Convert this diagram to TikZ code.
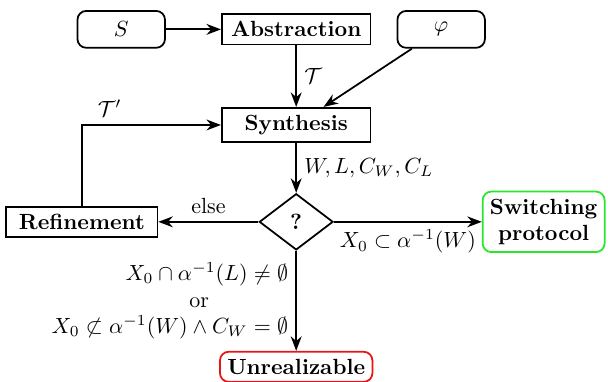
\documentclass[tikz,border=0pt]{standalone}
\usepackage{amsmath,amssymb}
\usepackage{tikz}
\usetikzlibrary{shapes.geometric, arrows.meta, positioning, calc}
\definecolor{okgreen}{RGB}{40,230,40}
\definecolor{badred}{RGB}{235,20,20}
\tikzset{
  inp/.style={rectangle, draw, thick, rounded corners=4pt,
    minimum width=14mm, minimum height=5.9mm},
  proc/.style={rectangle, draw, thick, minimum width=23.8mm,
    minimum height=4.7mm, font=\bfseries},
  dec/.style={diamond, draw, thick, minimum width=11.8mm,
    minimum height=9mm, inner sep=0pt, font=\bfseries},
  outc/.style={rectangle, thick, rounded corners=4pt, font=\bfseries,
    align=center},
  arrow/.style={->, >=Stealth, thick}
}

\begin{document}
\begin{tikzpicture}
  \useasboundingbox (0,0) rectangle (97.3mm,-61mm);
  % inputs and processing steps
  \node[inp] (sys) at (19.4mm,-4.7mm) {$S$};
  \node[proc] (abs) at (47.4mm,-4.7mm) {Abstraction};
  \node[inp] (spec) at (70.6mm,-4.7mm) {$\varphi$};
  \node[proc] (syn) at (47.4mm,-20mm) {Synthesis};
  \node[dec] (chk) at (47.4mm,-35.5mm) {?};
  \node[proc, minimum width=24.2mm] (ref) at (13.1mm,-35.5mm) {Refinement};
  % outcomes
  \node[outc, draw=okgreen] (sw) at (87mm,-35.5mm) {Switching\\protocol};
  \node[outc, draw=badred] (unr) at (47.4mm,-58.7mm) {Unrealizable};
  % connectors
  \draw[arrow] (sys) -- (abs);
  \draw[arrow] (abs) -- node[right] {$\mathcal{T}$} (syn);
  \draw[arrow] (spec) -- (syn);
  \draw[arrow] (ref) |- node[pos=0.6, above] {$\mathcal{T}'$} (syn);
  \draw[arrow] (syn) -- node[right] {$W, L, C_W, C_L$} (chk);
  \draw[arrow] (chk) -- node[above] {else} (ref);
  \draw[arrow] (chk) -- node[below] {$X_0 \subset \alpha^{-1}(W)$} (sw);
  \draw[arrow] (chk) -- node[left, align=right]
    {$X_0 \cap \alpha^{-1}(L) \neq \emptyset$\\or\rule{36pt}{0pt}\\
     $X_0 \not\subset \alpha^{-1}(W) \wedge C_W = \emptyset$} (unr);
\end{tikzpicture}
\end{document}
